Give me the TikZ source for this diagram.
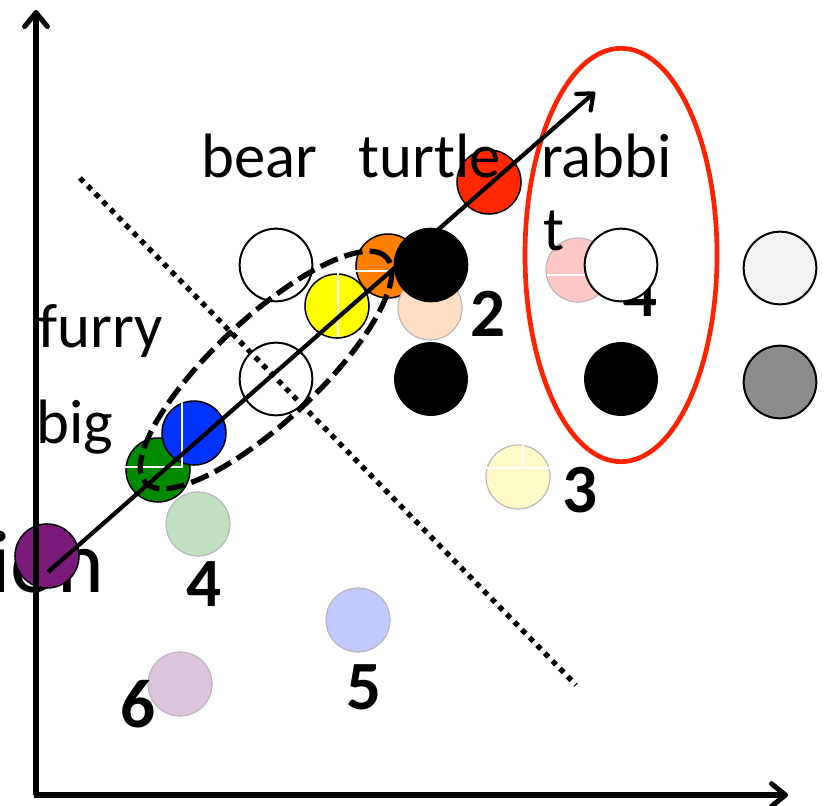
\documentclass[tikz,border=0pt]{standalone}
\usepackage{fontspec}
\setmainfont{Carlito}
\usetikzlibrary{arrows.meta}
\definecolor{cpurple}{RGB}{122,26,122}
\definecolor{cgreen}{RGB}{0,138,0}
\definecolor{cblue}{RGB}{0,51,255}
\definecolor{cyellow}{RGB}{255,255,0}
\definecolor{corange}{RGB}{255,128,0}
\definecolor{cred}{RGB}{255,40,0}
\definecolor{cpeach}{RGB}{255,222,196}
\definecolor{cpink}{RGB}{255,200,196}
\definecolor{clyellow}{RGB}{255,250,200}
\definecolor{clgreen}{RGB}{192,225,192}
\definecolor{clavender}{RGB}{192,202,255}
\definecolor{cmauve}{RGB}{220,196,220}
\definecolor{clgray}{RGB}{243,243,243}
\definecolor{cgray}{RGB}{140,140,140}
\definecolor{cellred}{RGB}{255,34,0}
\begin{document}
\begin{tikzpicture}[x=0.03cm,y=-0.03cm,
  disc/.style={circle,draw=black,line width=1.3pt,inner sep=0pt,minimum size=1.92cm},
  bigdisc/.style={disc,line width=1.7pt,minimum size=2.18cm},
  pale/.style={disc,draw=black!28,line width=1pt},
  word/.style={anchor=base west,inner sep=0pt,font=\fontsize{53.5}{60}\selectfont},
  num/.style={anchor=base west,inner sep=0pt,font=\fontsize{59}{64}\selectfont\bfseries},
  artifact/.style={white,line width=1.6pt},
  axis/.style={line width=4.3pt,-{Straight Barb[length=0.42cm,width=0.68cm,round]}},
  mainarrow/.style={line width=3.6pt,-{Straight Barb[length=0.4cm,width=0.66cm,round]}},
  dashell/.style={line width=4.5pt,dash pattern=on 16pt off 6pt},
  dotline/.style={line width=4.5pt,dash pattern=on 4.5pt off 4.8pt},
  redell/.style={cellred,line width=4pt}
]
\useasboundingbox (0,0) rectangle (829,806);

% big partial word
\node[anchor=base west,inner sep=0pt,font=\fontsize{76}{78}\selectfont] (ion) at (-10,592) {ion};
\node[disc,fill=cpurple] (purple) at (47,556) {};

% pale circles
\node[pale,fill=clgreen] (lgreen) at (198,524) {};
\node[pale,fill=cmauve] (mauve) at (180,684) {};
\node[pale,fill=clavender] (lav) at (358,620) {};
\node[pale,fill=clyellow] (lyellow) at (518,477) {};
\draw[artifact] (486,468) -- (550,468);
\draw[artifact] (523,445) -- (523,468);

% green / blue
\node[disc,fill=cgreen] (green) at (158,470) {};
\node[disc,fill=cblue] (blue) at (194,433) {};
\draw[artifact] (125,467) -- (183,467);
\draw[artifact] (182,395) -- (182,467);

% white circles
\node[bigdisc,fill=white] (w1) at (276,379) {};
\node[bigdisc,fill=white] (w2) at (276,265) {};

% yellow / orange / peach / black
\node[disc,fill=cyellow] (yellow) at (337,306) {};
\node[disc,fill=corange] (orange) at (388,266) {};
\draw[artifact] (312,271) -- (400,271);
\draw[artifact] (338,271) -- (338,337);
\node[pale,fill=cpeach] (peach) at (430,308) {};
\node[bigdisc,fill=black] (b1) at (431,265) {};
\node[disc,fill=cred] (red) at (489,182) {};

% pink and right white
\node[pale,fill=cpink] (pink) at (578,270) {};
\draw[artifact] (547,275) -- (610,275);
\node[num] (n1) at (622,316) {4};
\node[bigdisc,fill=white] (w3) at (621,265) {};

% lower row of black / gray
\node[bigdisc,line width=1pt,fill=black] (b2) at (431,379) {};
\node[bigdisc,line width=1pt,fill=black] (b3) at (621,379) {};
\node[bigdisc,fill=clgray] (g1) at (780,268) {};
\node[bigdisc,fill=cgray] (g2) at (780,382) {};

% dashed ellipse and dotted separator
\coordinate (ec) at (266,370);
\draw[dashell,rotate around={43:(ec)}] (ec) ellipse [x radius=4.95cm,y radius=1.55cm];
\coordinate (d0) at (80,178);
\coordinate (d1) at (576,685);
\draw[dotline] (d0) -- (d1);

% red ellipse
\coordinate (rc) at (621,255);
\draw[redell] (rc) ellipse [x radius=2.88cm,y radius=6.2cm];

% axes
\coordinate (O) at (36,795);
\coordinate (ytop) at (36,10);
\coordinate (xend) at (788,795);
\draw[axis] (O) -- (ytop);
\draw[axis] ([xshift=-2pt]O) -- (xend);

% main arrow
\coordinate (a0) at (48,572);
\coordinate (a1) at (595,92);
\draw[mainarrow] (a0) -- (a1);

% words
\node[word] (bear) at (201,177) {bear};
\node[word] (turtle) at (358,177) {turtle};
\node[word] (rabbi) at (541,177) {rabbi};
\node[word] (t) at (543,250) {t};
\node[word] (furry) at (38,347) {furry};
\node[word] (big) at (36,443) {big};

% numbers
\node[num] (n2) at (470,336) {2};
\node[num] (n3) at (562,512) {3};
\node[num] (n4) at (186,606) {4};
\node[num] (n5) at (346,709) {5};
\node[num] (n6) at (120,727) {6};
\end{tikzpicture}
\end{document}
